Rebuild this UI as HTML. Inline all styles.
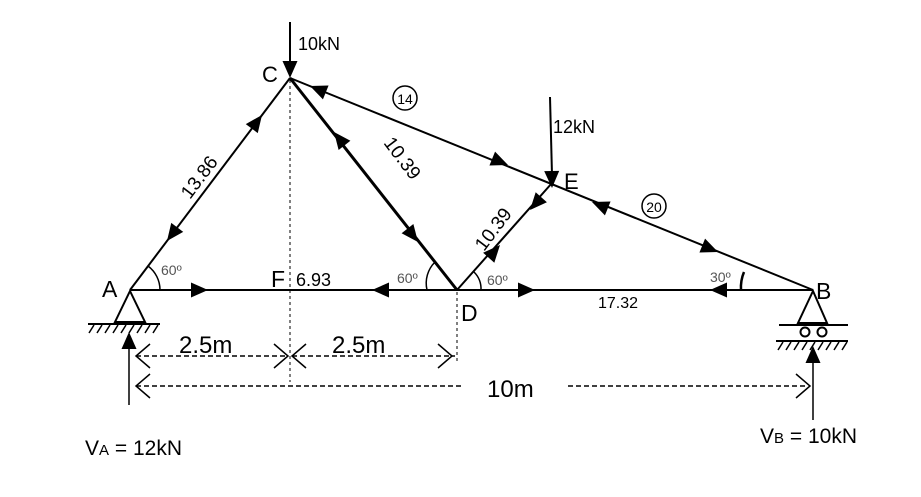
<!DOCTYPE html>
<html><head><meta charset="utf-8"><style>
html,body{margin:0;padding:0;background:#fff}
svg{display:block}
text{font-family:"Liberation Sans",sans-serif;fill:#000}
</style></head><body>
<svg width="921" height="497" viewBox="0 0 921 497" xmlns="http://www.w3.org/2000/svg">
<defs>
<polygon id="ah" points="0,0 -17,-7.5 -17,7.5" fill="#000"/>
</defs>
<g stroke="#000" stroke-width="2" fill="none">
<line x1="130" y1="290" x2="290" y2="78"/>
<line x1="130" y1="290" x2="813" y2="290"/>
<line x1="290" y1="78" x2="813" y2="290"/>
<line x1="290" y1="78" x2="457" y2="290" stroke-width="3"/>
<line x1="457" y1="290" x2="552" y2="183"/>
<line x1="290" y1="22" x2="290" y2="70"/>
<line x1="550" y1="97" x2="552" y2="175"/>
</g>
<g stroke="#000" stroke-width="1" stroke-dasharray="3,3" fill="none">
<line x1="290" y1="80" x2="290" y2="382"/>
<line x1="457" y1="292" x2="457" y2="362"/>
</g>
<g stroke="#000" stroke-width="1.5" stroke-dasharray="5,3" fill="none">
<line x1="136" y1="356" x2="288" y2="356"/>
<line x1="292" y1="356" x2="455" y2="356"/>
<line x1="136" y1="386" x2="462" y2="386"/>
<line x1="568" y1="386" x2="808" y2="386"/>
</g>
<g stroke="#000" stroke-width="1.5" fill="none">
<polyline points="150,344 136,356 150,368"/>
<polyline points="274,344 288,356 274,368"/>
<polyline points="306,344 292,356 306,368"/>
<polyline points="438,344 452,356 438,368"/>
<polyline points="150,374 136,386 150,398"/>
<polyline points="796,374 810,386 796,398"/>
<line x1="129" y1="345" x2="129" y2="405"/>
<line x1="813" y1="360" x2="813" y2="420"/>
</g>
<use href="#ah" transform="translate(290,78) rotate(90)"/>
<use href="#ah" transform="translate(552,188) rotate(89)"/>
<use href="#ah" transform="translate(129,332) rotate(-90)"/>
<use href="#ah" transform="translate(813,346) rotate(-90)"/>
<use href="#ah" transform="translate(262,115) rotate(-53)"/>
<use href="#ah" transform="translate(167,241) rotate(127)"/>
<use href="#ah" transform="translate(208,290) rotate(0)"/>
<use href="#ah" transform="translate(372,290) rotate(180)"/>
<use href="#ah" transform="translate(535,290) rotate(0)"/>
<use href="#ah" transform="translate(710,290) rotate(180)"/>
<use href="#ah" transform="translate(334,132) rotate(-128.2)"/>
<use href="#ah" transform="translate(418,242) rotate(51.8)"/>
<use href="#ah" transform="translate(530,210) rotate(131.6)"/>
<use href="#ah" transform="translate(500,245) rotate(-48.4)"/>
<use href="#ah" transform="translate(310,86) rotate(202.1)"/>
<use href="#ah" transform="translate(508,165) rotate(22.1)"/>
<use href="#ah" transform="translate(592,202) rotate(202.1)"/>
<use href="#ah" transform="translate(718,252) rotate(22.1)"/>
<g stroke="#000" stroke-width="2" fill="none">
<polygon points="130,291 115,322 145,322"/>
<line x1="88" y1="324" x2="160" y2="324"/>
<polygon points="813,291 798,323 827,323"/>
<line x1="779" y1="325" x2="848" y2="325"/>
<circle cx="805" cy="332" r="4.5"/>
<circle cx="822" cy="332" r="4.5"/>
<line x1="776" y1="341" x2="848" y2="341"/>
</g>
<g stroke="#000" stroke-width="1.5">
<line x1="94" y1="325" x2="89" y2="333"/><line x1="102" y1="325" x2="97" y2="333"/><line x1="110" y1="325" x2="105" y2="333"/><line x1="118" y1="325" x2="113" y2="333"/><line x1="126" y1="325" x2="121" y2="333"/><line x1="134" y1="325" x2="129" y2="333"/><line x1="142" y1="325" x2="137" y2="333"/><line x1="150" y1="325" x2="145" y2="333"/><line x1="158" y1="325" x2="153" y2="333"/>
<line x1="783" y1="342" x2="778" y2="350"/><line x1="791" y1="342" x2="786" y2="350"/><line x1="799" y1="342" x2="794" y2="350"/><line x1="807" y1="342" x2="802" y2="350"/><line x1="815" y1="342" x2="810" y2="350"/><line x1="823" y1="342" x2="818" y2="350"/><line x1="831" y1="342" x2="826" y2="350"/><line x1="839" y1="342" x2="834" y2="350"/><line x1="847" y1="342" x2="842" y2="350"/>
</g>
<g stroke="#000" stroke-width="1.5" fill="none">
<path d="M148,266 A30,30 0 0 1 160,290"/>
<path d="M435,262 A30,30 0 0 0 427,290"/>
<path d="M474,272 A24,24 0 0 1 481,290"/>
<path d="M744,272 A40,40 0 0 0 741,290" stroke-width="2.5"/>
</g>
<circle cx="405" cy="98" r="12" stroke="#000" stroke-width="1.5" fill="none"/>
<circle cx="654" cy="206" r="12" stroke="#000" stroke-width="1.5" fill="none"/>
<text x="298" y="50" font-size="18">10kN</text>
<text x="262" y="82" font-size="22">C</text>
<text x="405" y="104" font-size="14" text-anchor="middle">14</text>
<text x="654" y="212" font-size="14" text-anchor="middle">20</text>
<text x="553" y="133" font-size="18">12kN</text>
<text x="564" y="189" font-size="22">E</text>
<text x="0" y="0" font-size="19" transform="translate(190,200) rotate(-53)">13.86</text>
<text x="0" y="0" font-size="19" transform="translate(383,143) rotate(53)">10.39</text>
<text x="0" y="0" font-size="19" transform="translate(484,252) rotate(-53)">10.39</text>
<text x="102" y="297" font-size="23">A</text>
<text x="816" y="299" font-size="23">B</text>
<text x="271" y="287" font-size="23">F</text>
<text x="296" y="286" font-size="18">6.93</text>
<text x="461" y="321" font-size="23">D</text>
<text x="161" y="275" font-size="14" style="fill:#555">60º</text>
<text x="397" y="283" font-size="14" style="fill:#555">60º</text>
<text x="487" y="285" font-size="14" style="fill:#555">60º</text>
<text x="710" y="282" font-size="14" style="fill:#555">30º</text>
<text x="598" y="308" font-size="16">17.32</text>
<text x="179" y="353" font-size="24">2.5m</text>
<text x="332" y="353" font-size="24">2.5m</text>
<text x="487" y="397" font-size="24">10m</text>
<text x="85" y="455" font-size="21">V<tspan font-size="15">A</tspan> = 12kN</text>
<text x="760" y="443" font-size="21">V<tspan font-size="15">B</tspan> = 10kN</text>
</svg>
</body></html>
